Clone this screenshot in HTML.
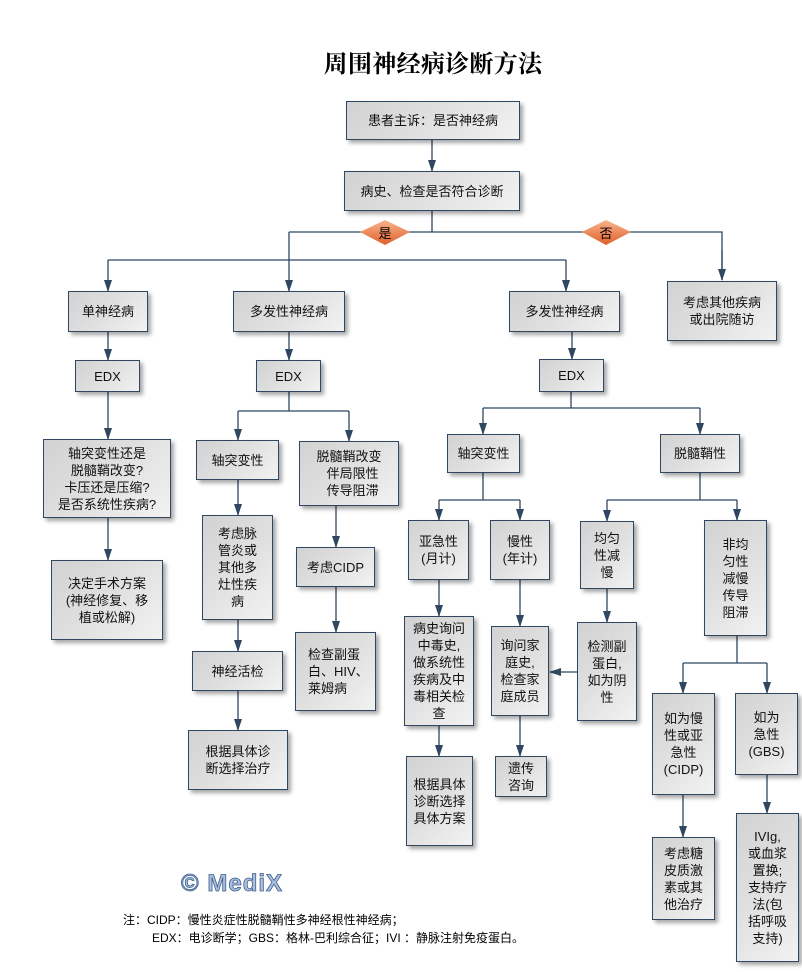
<!DOCTYPE html>
<html><head><meta charset="utf-8"><style>
body{margin:0;width:802px;height:972px;background:#fff;position:relative;overflow:hidden;font-family:"Liberation Sans","Noto Sans CJK SC",sans-serif;}
.b{position:absolute;box-sizing:border-box;border:1.5px solid #2f4760;background:linear-gradient(135deg,#d2d2d2 0%,#e0e0e0 50%,#f2f2f2 100%);box-shadow:3px 3px 4px rgba(0,0,0,0.35);display:flex;align-items:center;justify-content:center;text-align:center;font-size:13px;line-height:17px;color:#111;}
svg{position:absolute;left:0;top:0;}
.t{position:absolute;left:0;width:866px;top:44px;text-align:center;font-family:"Noto Serif CJK SC",serif;font-weight:bold;font-size:24px;letter-spacing:0.3px;}
</style></head><body>
<div class="t">周围神经病诊断方法</div>
<svg width="802" height="972">
<defs>
<marker id="h" markerWidth="12" markerHeight="8" refX="11" refY="4" orient="auto" markerUnits="userSpaceOnUse"><path d="M0,0 L12,4 L0,8 Z" fill="#2f4760"/></marker>
<linearGradient id="g" x1="0" y1="0" x2="0" y2="1"><stop offset="0" stop-color="#f8b48c"/><stop offset="1" stop-color="#e0602a"/></linearGradient></defs>
<g stroke="#2f4760" stroke-width="1.3" fill="none">
<path d="M432 139 V171" marker-end="url(#h)"/>
<path d="M432 210 V232 M289 232 H722 V280" />
<path d="M722 250 V280" marker-end="url(#h)"/>
<path d="M289 232 V260 M108 260 H566"/>
<path d="M108 260 V291" marker-end="url(#h)"/>
<path d="M289 260 V291" marker-end="url(#h)"/>
<path d="M566 260 V291" marker-end="url(#h)"/>
<path d="M108 332 V360" marker-end="url(#h)"/>
<path d="M289 332 V360" marker-end="url(#h)"/>
<path d="M572 332 V359" marker-end="url(#h)"/>
<path d="M108 392 V439" marker-end="url(#h)"/>
<path d="M108 518 V560" marker-end="url(#h)"/>
<path d="M289 392 V411 M238 411 H349"/>
<path d="M238 411 V440" marker-end="url(#h)"/>
<path d="M349 411 V441" marker-end="url(#h)"/>
<path d="M238 480 V515" marker-end="url(#h)"/>
<path d="M238 620 V651" marker-end="url(#h)"/>
<path d="M238 691 V730" marker-end="url(#h)"/>
<path d="M336 506 V547" marker-end="url(#h)"/>
<path d="M336 587 V632" marker-end="url(#h)"/>
<path d="M571 392 V408 M483 408 H700"/>
<path d="M483 408 V434" marker-end="url(#h)"/>
<path d="M700 408 V434" marker-end="url(#h)"/>
<path d="M483 473 V500 M439 500 H520"/>
<path d="M439 500 V520" marker-end="url(#h)"/>
<path d="M520 500 V520" marker-end="url(#h)"/>
<path d="M700 473 V500 M607 500 H737"/>
<path d="M607 500 V521" marker-end="url(#h)"/>
<path d="M737 500 V520" marker-end="url(#h)"/>
<path d="M439 580 V616" marker-end="url(#h)"/>
<path d="M520 580 V626" marker-end="url(#h)"/>
<path d="M607 589 V622" marker-end="url(#h)"/>
<path d="M577 672 H550" marker-end="url(#h)"/>
<path d="M439 726 V756" marker-end="url(#h)"/>
<path d="M520 716 V756" marker-end="url(#h)"/>
<path d="M737 636 V663 M683 663 H767"/>
<path d="M683 663 V693" marker-end="url(#h)"/>
<path d="M767 663 V693" marker-end="url(#h)"/>
<path d="M683 795 V837" marker-end="url(#h)"/>
<path d="M767 775 V813" marker-end="url(#h)"/>
</g>
<path d="M360 232 L385 220 L410 232 L385 245 Z" fill="url(#g)"/>
<path d="M582 232 L606 220 L631 232 L606 245 Z" fill="url(#g)"/>
<text x="385" y="238" font-size="13" text-anchor="middle" font-family="Liberation Sans,Noto Sans CJK SC,sans-serif">是</text>
<text x="606" y="238" font-size="13" text-anchor="middle" font-family="Liberation Sans,Noto Sans CJK SC,sans-serif">否</text>
<text x="181" y="891" font-size="24" font-weight="bold" fill="#a9bfdc" stroke="#3f5f8f" stroke-width="0.8" letter-spacing="1" font-family="Liberation Sans,sans-serif">© MediX</text>
<text x="123" y="924" font-size="12" font-family="Liberation Sans,Noto Sans CJK SC,sans-serif">注：CIDP：慢性炎症性脱髓鞘性多神经根性神经病；</text>
<text x="152" y="942" font-size="12" font-family="Liberation Sans,Noto Sans CJK SC,sans-serif">EDX：电诊断学；GBS：格林-巴利综合征；IVI ：静脉注射免疫蛋白。</text>
</svg>
<div class="b" style="left:346px;top:101px;width:174px;height:39px">患者主诉：是否神经病</div>
<div class="b" style="left:344px;top:171px;width:176px;height:40px">病史、检查是否符合诊断</div>
<div class="b" style="left:68px;top:291px;width:80px;height:41px">单神经病</div>
<div class="b" style="left:233px;top:291px;width:112px;height:41px">多发性神经病</div>
<div class="b" style="left:509px;top:291px;width:111px;height:41px">多发性神经病</div>
<div class="b" style="left:667px;top:281px;width:110px;height:60px">考虑其他疾病<br>或出院随访</div>
<div class="b" style="left:75px;top:360px;width:65px;height:32px">EDX</div>
<div class="b" style="left:256px;top:360px;width:65px;height:32px">EDX</div>
<div class="b" style="left:539px;top:359px;width:65px;height:33px">EDX</div>
<div class="b" style="left:43px;top:439px;width:128px;height:79px">轴突变性还是<br>脱髓鞘改变?<br>卡压还是压缩?<br>是否系统性疾病?</div>
<div class="b" style="left:51px;top:560px;width:112px;height:80px">决定手术方案<br>(神经修复、移<br>植或松解)</div>
<div class="b" style="left:196px;top:440px;width:83px;height:40px">轴突变性</div>
<div class="b" style="left:299px;top:441px;width:100px;height:65px">脱髓鞘改变<br>&nbsp;&nbsp;伴局限性<br>&nbsp;&nbsp;传导阻滞</div>
<div class="b" style="left:202px;top:515px;width:71px;height:105px">考虑脉<br>管炎或<br>其他多<br>灶性疾<br>病</div>
<div class="b" style="left:192px;top:651px;width:91px;height:40px">神经活检</div>
<div class="b" style="left:188px;top:730px;width:100px;height:60px">根据具体诊<br>断选择治疗</div>
<div class="b" style="left:296px;top:547px;width:79px;height:40px">考虑CIDP</div>
<div class="b" style="left:295px;top:632px;width:81px;height:79px;text-align:left;justify-content:flex-start;padding-left:12px">检查副蛋<br>白、HIV、<br>莱姆病</div>
<div class="b" style="left:447px;top:434px;width:73px;height:39px">轴突变性</div>
<div class="b" style="left:660px;top:434px;width:80px;height:39px">脱髓鞘性</div>
<div class="b" style="left:408px;top:520px;width:61px;height:60px">亚急性<br>(月计)</div>
<div class="b" style="left:490px;top:520px;width:60px;height:60px">慢性<br>(年计)</div>
<div class="b" style="left:580px;top:521px;width:54px;height:68px">均匀<br>性减<br>慢</div>
<div class="b" style="left:704px;top:520px;width:63px;height:116px">非均<br>匀性<br>减慢<br>传导<br>阻滞</div>
<div class="b" style="left:404px;top:616px;width:70px;height:110px">病史询问<br>中毒史,<br>做系统性<br>疾病及中<br>毒相关检<br>查</div>
<div class="b" style="left:491px;top:626px;width:58px;height:90px">询问家<br>庭史,<br>检查家<br>庭成员</div>
<div class="b" style="left:577px;top:622px;width:60px;height:99px">检测副<br>蛋白,<br>如为阴<br>性</div>
<div class="b" style="left:406px;top:756px;width:67px;height:90px">根据具体<br>诊断选择<br>具体方案</div>
<div class="b" style="left:495px;top:756px;width:52px;height:41px">遗传<br>咨询</div>
<div class="b" style="left:652px;top:693px;width:63px;height:102px">如为慢<br>性或亚<br>急性<br>(CIDP)</div>
<div class="b" style="left:735px;top:693px;width:63px;height:82px">如为<br>急性<br>(GBS)</div>
<div class="b" style="left:652px;top:837px;width:63px;height:83px">考虑糖<br>皮质激<br>素或其<br>他治疗</div>
<div class="b" style="left:736px;top:813px;width:63px;height:149px">IVIg,<br>或血浆<br>置换;<br>支持疗<br>法(包<br>括呼吸<br>支持)</div>
</body></html>
